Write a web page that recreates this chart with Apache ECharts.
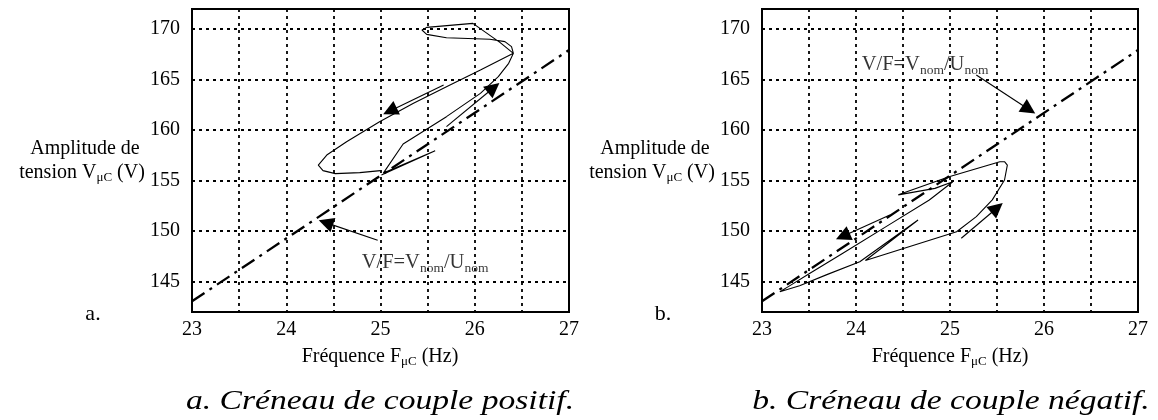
<!DOCTYPE html>
<html>
<head>
<meta charset="utf-8">
<script src="https://cdn.jsdelivr.net/npm/echarts@6/dist/echarts.min.js"></script>
<style>html,body{margin:0;padding:0;background:#fff}#c{width:1158px;height:420px}</style>
</head>
<body>
<div id="c"></div>
<script>
// ---- data (Hz, V) ----
const xTicks = [23, 24, 25, 26, 27];
const yTicks = [145, 150, 155, 160, 165, 170];
const vfLine = [[23, 143.06], [27, 167.94]];

// a. positive torque step trajectory
const curveA = [
  [25.01,155.56],[25.58,157.97],[25.03,155.75],[25.24,158.63],[25.70,161.34],
  [26.06,163.65],[26.25,165.30],[26.36,166.62],[26.41,167.61],[26.39,168.27],
  [26.32,168.77],[26.16,169.00],[25.70,169.16],[25.49,169.49],[25.44,169.92],
  [25.49,170.18],[25.98,170.58],[26.27,168.67],[26.41,167.61],[26.06,165.96],
  [25.70,164.31],[25.35,162.66],[24.99,160.84],[24.64,158.86],[24.43,157.54],
  [24.34,156.55],[24.39,156.00],[24.52,155.70],[24.78,155.80],[25.00,156.00]
];
// b. negative torque step trajectory
const curveB = [
  [24.99,155.40],[24.45,153.60],[24.84,154.24],[25.03,154.90],[24.78,153.09],
  [24.32,150.45],[23.86,147.81],[23.51,145.83],[23.28,144.51],[23.19,144.01],
  [23.40,144.60],[23.69,145.70],[24.04,146.98],[24.66,151.11],[24.10,147.10],
  [25.07,149.95],[25.28,151.44],[25.45,153.10],[25.58,155.07],[25.61,156.55],
  [25.58,156.88],[25.53,156.88],[24.99,155.40]
];
// annotation arrows [from, to]
const arrowsA = [
  [[25.67,164.48],[25.10,161.90]],
  [[25.70,160.35],[26.20,164.20]],
  [[24.97,149.10],[24.42,150.85]]
];
const arrowsB = [
  [[24.36,151.60],[23.86,149.50]],
  [[25.12,149.30],[25.50,152.30]],
  [[25.28,165.47],[25.84,162.05]]
];
const labelPosA = [24.80, 146.85];
const labelPosB = [24.06, 166.46];

const FONT = '"Liberation Serif", "Times New Roman", serif';
const chart = echarts.init(document.getElementById('c'), null, {renderer: 'canvas'});

const richMain = {
  a: {fontFamily: FONT, fontSize: 20, color: '#000'},
  s: {fontFamily: FONT, fontSize: 13, color: '#000', padding: [10, 0, 0, 0]}
};
const richLabel = {
  a: {fontFamily: FONT, fontSize: 20.5, color: '#000'},
  s: {fontFamily: FONT, fontSize: 13.5, color: '#000', padding: [10, 0, 0, 0]}
};

function xAxisFor(i) {
  return {
    gridIndex: i, type: 'value', min: 23, max: 27, interval: 0.5,
    axisLine: {show: false}, axisTick: {show: false},
    axisLabel: {
      formatter: v => xTicks.indexOf(v) >= 0 ? String(v) : '',
      fontFamily: FONT, fontSize: 20, color: '#000', margin: 8
    },
    splitLine: {show: true, lineStyle: {color: '#000', type: [3, 4], width: 1.8}}
  };
}
function yAxisFor(i) {
  return {
    gridIndex: i, type: 'value', min: 142, max: 172, interval: 1,
    axisLine: {show: false}, axisTick: {show: false},
    axisLabel: {
      formatter: v => yTicks.indexOf(v) >= 0 ? String(v) : '',
      fontFamily: FONT, fontSize: 20, color: '#000', margin: 12
    },
    splitLine: {show: false}
  };
}
function seriesFor(i, curve, arrows, labelPos) {
  return [
    {
      type: 'line', xAxisIndex: i, yAxisIndex: i, data: [], silent: true,
      markLine: {
        silent: true, symbol: ['none', 'none'], label: {show: false}, animation: false,
        lineStyle: {color: '#000', type: [3, 4], width: 1.8},
        data: yTicks.map(v => ({yAxis: v}))
      }
    },
    {
      type: 'line', xAxisIndex: i, yAxisIndex: i, data: vfLine, showSymbol: false, silent: true,
      lineStyle: {color: '#000', width: 2.3, type: [15, 6, 3, 6]}
    },
    {
      type: 'line', xAxisIndex: i, yAxisIndex: i, data: curve, showSymbol: false, silent: true,
      lineStyle: {color: '#000', width: 1.1}
    },
    {
      type: 'lines', coordinateSystem: 'cartesian2d', xAxisIndex: i, yAxisIndex: i, silent: true,
      symbol: ['none', 'triangle'], symbolSize: [11, 15],
      lineStyle: {color: '#000', width: 1.1, opacity: 1},
      itemStyle: {color: '#000'},
      data: arrows.map(a => ({coords: a}))
    },
    {
      type: 'scatter', xAxisIndex: i, yAxisIndex: i, data: [labelPos], symbolSize: 0, silent: true,
      label: {
        show: true, position: 'right', distance: 0,
        formatter: '{a|V/F=V}{s|nom}{a|/U}{s|nom}', rich: richLabel
      }
    }
  ];
}

function txt(x, y, text, extra, scaleX) {
  return {
    type: 'text', x: x, y: y, silent: true, scaleX: scaleX || 1,
    style: Object.assign({
      text: text, fill: '#000', font: '20px ' + FONT,
      align: 'center', verticalAlign: 'middle', rich: richMain
    }, extra || {})
  };
}

const graphics = [];
[[0, 'a.'], [570, 'b.']].forEach(([dx, lab]) => {
  graphics.push(txt(85 + dx, 149, '{a|Amplitude de}'));
  graphics.push(txt(82 + dx, 173, '{a|tension V}{s|μC}{a| (V)}'));
  graphics.push(txt(93 + dx, 314, lab, {font: '22px ' + FONT, rich: null}));
  graphics.push(txt(380 + dx, 357, '{a|Fréquence F}{s|μC}{a| (Hz)}'));
});
graphics.push(txt(380, 402, 'a. Créneau de couple positif.', {font: 'italic 28px ' + FONT, rich: null}, 1.2));
graphics.push(txt(951, 402, 'b. Créneau de couple négatif.', {font: 'italic 28px ' + FONT, rich: null}, 1.2));

chart.setOption({
  animation: false,
  backgroundColor: '#fff',
  grid: [
    {left: 192, top: 9, width: 377, height: 303, show: true, borderColor: '#000', borderWidth: 2, backgroundColor: 'transparent'},
    {left: 762, top: 9, width: 376, height: 303, show: true, borderColor: '#000', borderWidth: 2, backgroundColor: 'transparent'}
  ],
  xAxis: [xAxisFor(0), xAxisFor(1)],
  yAxis: [yAxisFor(0), yAxisFor(1)],
  series: seriesFor(0, curveA, arrowsA, labelPosA).concat(seriesFor(1, curveB, arrowsB, labelPosB)),
  graphic: graphics
});
</script>
</body>
</html>
